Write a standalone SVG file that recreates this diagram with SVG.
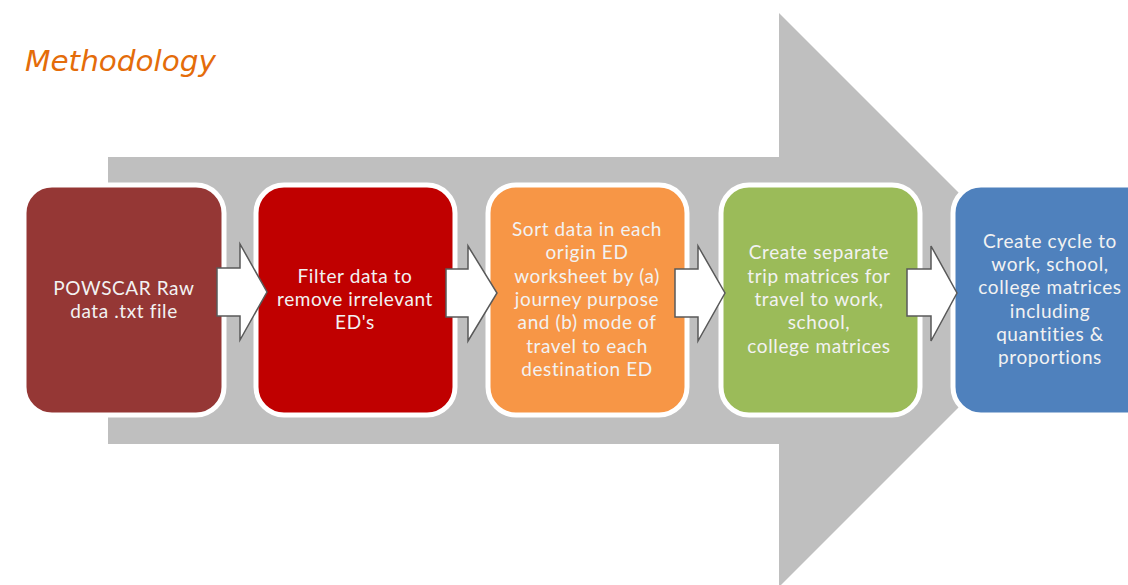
<svg xmlns="http://www.w3.org/2000/svg" width="1128" height="585" viewBox="0 0 1128 585">
  <style>
    .box { stroke: #ffffff; stroke-width: 5; }
    .lbl { font-family: Lato, "Liberation Sans", sans-serif; font-size: 19px; letter-spacing: 0.6px; fill: #f2f2f2; text-anchor: middle; }
    .step { fill: #ffffff; stroke: #595959; stroke-width: 1.5; stroke-linejoin: miter; }
    .title { font-family: "DejaVu Sans", "Liberation Sans", sans-serif; font-style: italic; font-size: 28px; fill: #e46c0a; }
  </style>
  <rect width="1128" height="585" fill="#ffffff"/>

  <text class="title" x="25" y="71" textLength="191" lengthAdjust="spacingAndGlyphs">Methodology</text>

  <!-- background process arrow -->
  <polygon id="process-arrow" points="108,157 779,157 779,13 1066,300 779,587 779,444 108,444" fill="#bfbfbf"/>

  <g id="node-raw">
    <rect class="box" x="24" y="185" width="200" height="230" rx="28" fill="#953735"/>
    <text class="lbl"><tspan x="124" y="295">POWSCAR Raw</tspan><tspan x="124" y="318">data .txt file</tspan></text>
  </g>

  <g id="node-filter">
    <rect class="box" x="256" y="185" width="199" height="230" rx="28" fill="#c00000"/>
    <text class="lbl"><tspan x="355" y="283">Filter data to</tspan><tspan x="355" y="306">remove irrelevant</tspan><tspan x="355" y="329">ED's</tspan></text>
  </g>

  <g id="node-sort">
    <rect class="box" x="488" y="185" width="199" height="230" rx="28" fill="#f79646"/>
    <text class="lbl"><tspan x="587" y="236">Sort data in each</tspan><tspan x="587" y="259">origin ED</tspan><tspan x="587" y="283">worksheet by (a)</tspan><tspan x="587" y="306">journey purpose</tspan><tspan x="587" y="329">and (b) mode of</tspan><tspan x="587" y="353">travel to each</tspan><tspan x="587" y="376">destination ED</tspan></text>
  </g>

  <g id="node-trip">
    <rect class="box" x="721" y="185" width="199" height="230" rx="28" fill="#9bbb59"/>
    <text class="lbl"><tspan x="819" y="259">Create separate</tspan><tspan x="819" y="283">trip matrices for</tspan><tspan x="819" y="306">travel to work,</tspan><tspan x="819" y="329">school,</tspan><tspan x="819" y="353">college matrices</tspan></text>
  </g>

  <g id="node-cycle">
    <rect class="box" x="953" y="185" width="210" height="230" rx="28" fill="#4f81bd"/>
    <text class="lbl"><tspan x="1050" y="248">Create cycle to</tspan><tspan x="1050" y="271">work, school,</tspan><tspan x="1050" y="294">college matrices</tspan><tspan x="1050" y="318">including</tspan><tspan x="1050" y="341">quantities &amp;</tspan><tspan x="1050" y="364">proportions</tspan></text>
  </g>

  <!-- step connectors -->
  <g id="connectors">
    <polygon class="step" points="217,268 240,268 240,244 267,292 240,340 240,316 217,316"/>
    <polygon class="step" points="446,269 468,269 468,246 497,293 468,341 468,317 446,317"/>
    <polygon class="step" points="675,269 698,269 698,246 725,293 698,341 698,317 675,317"/>
    <polygon class="step" points="907,269 931,269 931,246 957,293 931,341 931,316 907,316"/>
  </g>
</svg>
